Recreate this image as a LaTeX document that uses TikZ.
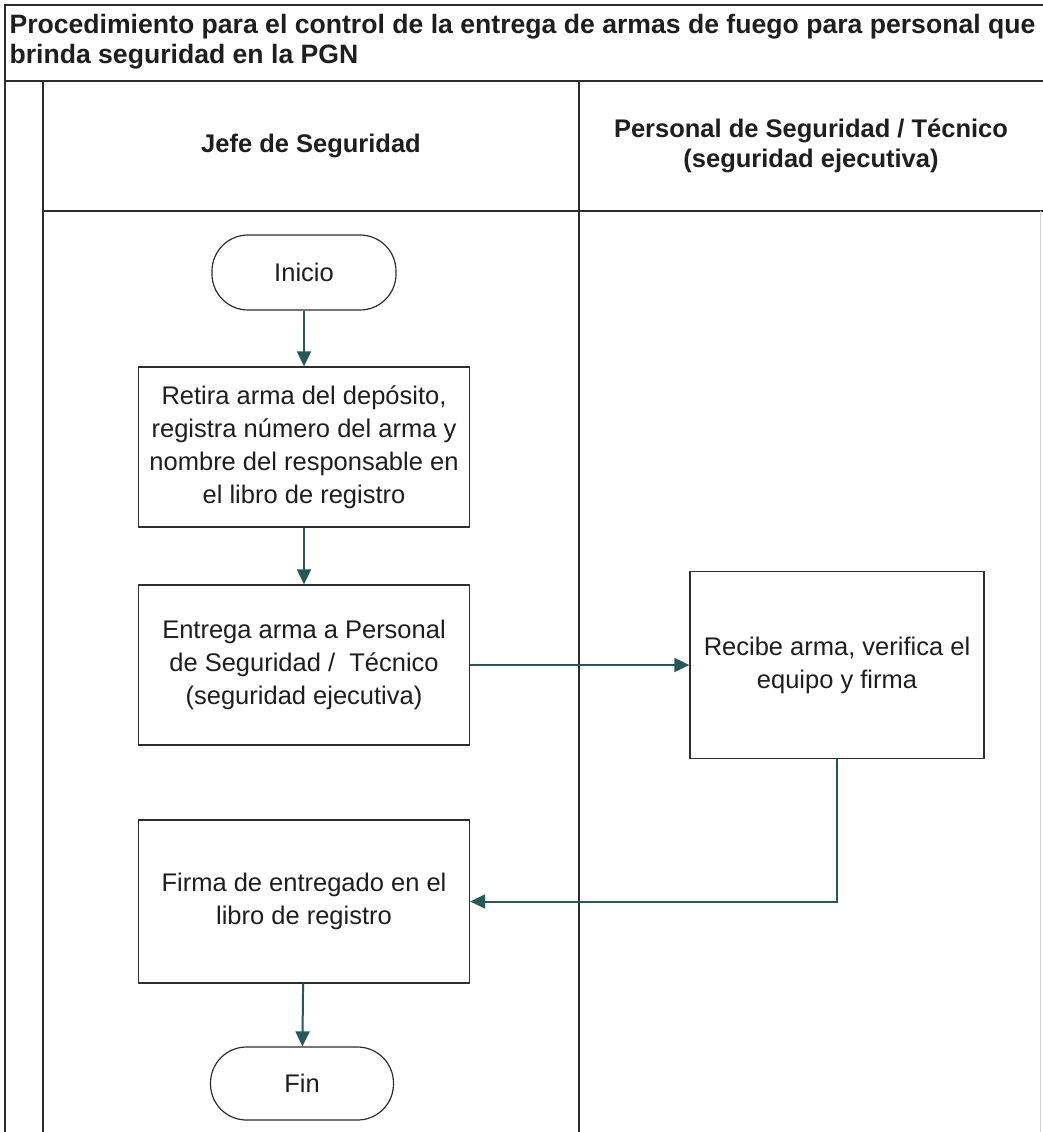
\documentclass[tikz,border=0pt]{standalone}
\usepackage{fontspec}
\setmainfont{Liberation Sans}
\usetikzlibrary{arrows.meta}
\definecolor{arrowteal}{RGB}{38,88,88}
\definecolor{inkdark}{RGB}{30,30,30}
\definecolor{framedark}{RGB}{45,45,45}
\begin{document}
\begin{tikzpicture}[x=1pt,y=-1pt,
  lane/.style={draw=framedark,line width=1.4pt},
  procbox/.style={draw=framedark,line width=1.3pt,rectangle,inner sep=0pt,align=center,
    text=inkdark,font=\fontsize{25.5}{33}\selectfont},
  termbox/.style={draw=framedark,line width=1.2pt,rectangle,rounded corners=36pt,inner sep=0pt,
    align=center,text=inkdark,font=\fontsize{25.5}{33}\selectfont},
  flow/.style={draw=arrowteal,line width=2pt,-{Triangle[length=15pt,width=14pt]}},
  headtxt/.style={align=center,text=inkdark,font=\bfseries\fontsize{25.5}{30}\selectfont},
]
\useasboundingbox (0,0) rectangle (1043,1132);
\fill[white] (0,0) rectangle (1043,1132);

% frame and lanes
\draw[lane] (1043,5) -- (5,5) -- (5,1132);
\draw[lane] (5,81) -- (1043,81);
\draw[lane] (43,81) -- (43,1132);
\draw[lane] (43,211) -- (1043,211);
\draw[lane] (579,81) -- (579,1132);
\draw[gray!35,line width=0.8pt] (1040,211) -- (1040,1132);

% title
\node[anchor=west,align=left,text=inkdark,font=\bfseries\fontsize{26.6}{30}\selectfont] (title) at (6,42)
  {Procedimiento para el control de la entrega de armas de fuego para personal que\\brinda seguridad en la PGN};

% lane headers
\node[headtxt] (hjefe) at (311,146) {Jefe de Seguridad};
\node[headtxt] (hpers) at (811,146) {Personal de Seguridad / Técnico\\(seguridad ejecutiva)};

% nodes
\node[termbox,minimum width=184pt,minimum height=75pt] (inicio) at (304,272.5) {Inicio};
\node[procbox,minimum width=331pt,minimum height=160pt] (retira) at (304,447)
  {Retira arma del depósito,\\registra número del arma y\\nombre del responsable en\\el libro de registro};
\node[procbox,minimum width=331pt,minimum height=160pt] (entrega) at (304,665)
  {Entrega arma a Personal\\de Seguridad /\ \ Técnico\\(seguridad ejecutiva)};
\node[procbox,minimum width=294pt,minimum height=187pt] (recibe) at (837,665)
  {Recibe arma, verifica el\\equipo y firma};
\node[procbox,minimum width=331pt,minimum height=163pt] (firma) at (304,901.5)
  {Firma de entregado en el\\libro de registro};
\node[termbox,minimum width=183pt,minimum height=73pt] (fin) at (302,1083.5) {Fin};

% connectors
\draw[flow] (inicio) -- (retira);
\draw[flow] (retira) -- (entrega);
\draw[flow] (entrega) -- (recibe);
\draw[flow] (recibe.south) |- (firma.east);
\draw[flow] (firma) -- (fin);
\end{tikzpicture}
\end{document}
